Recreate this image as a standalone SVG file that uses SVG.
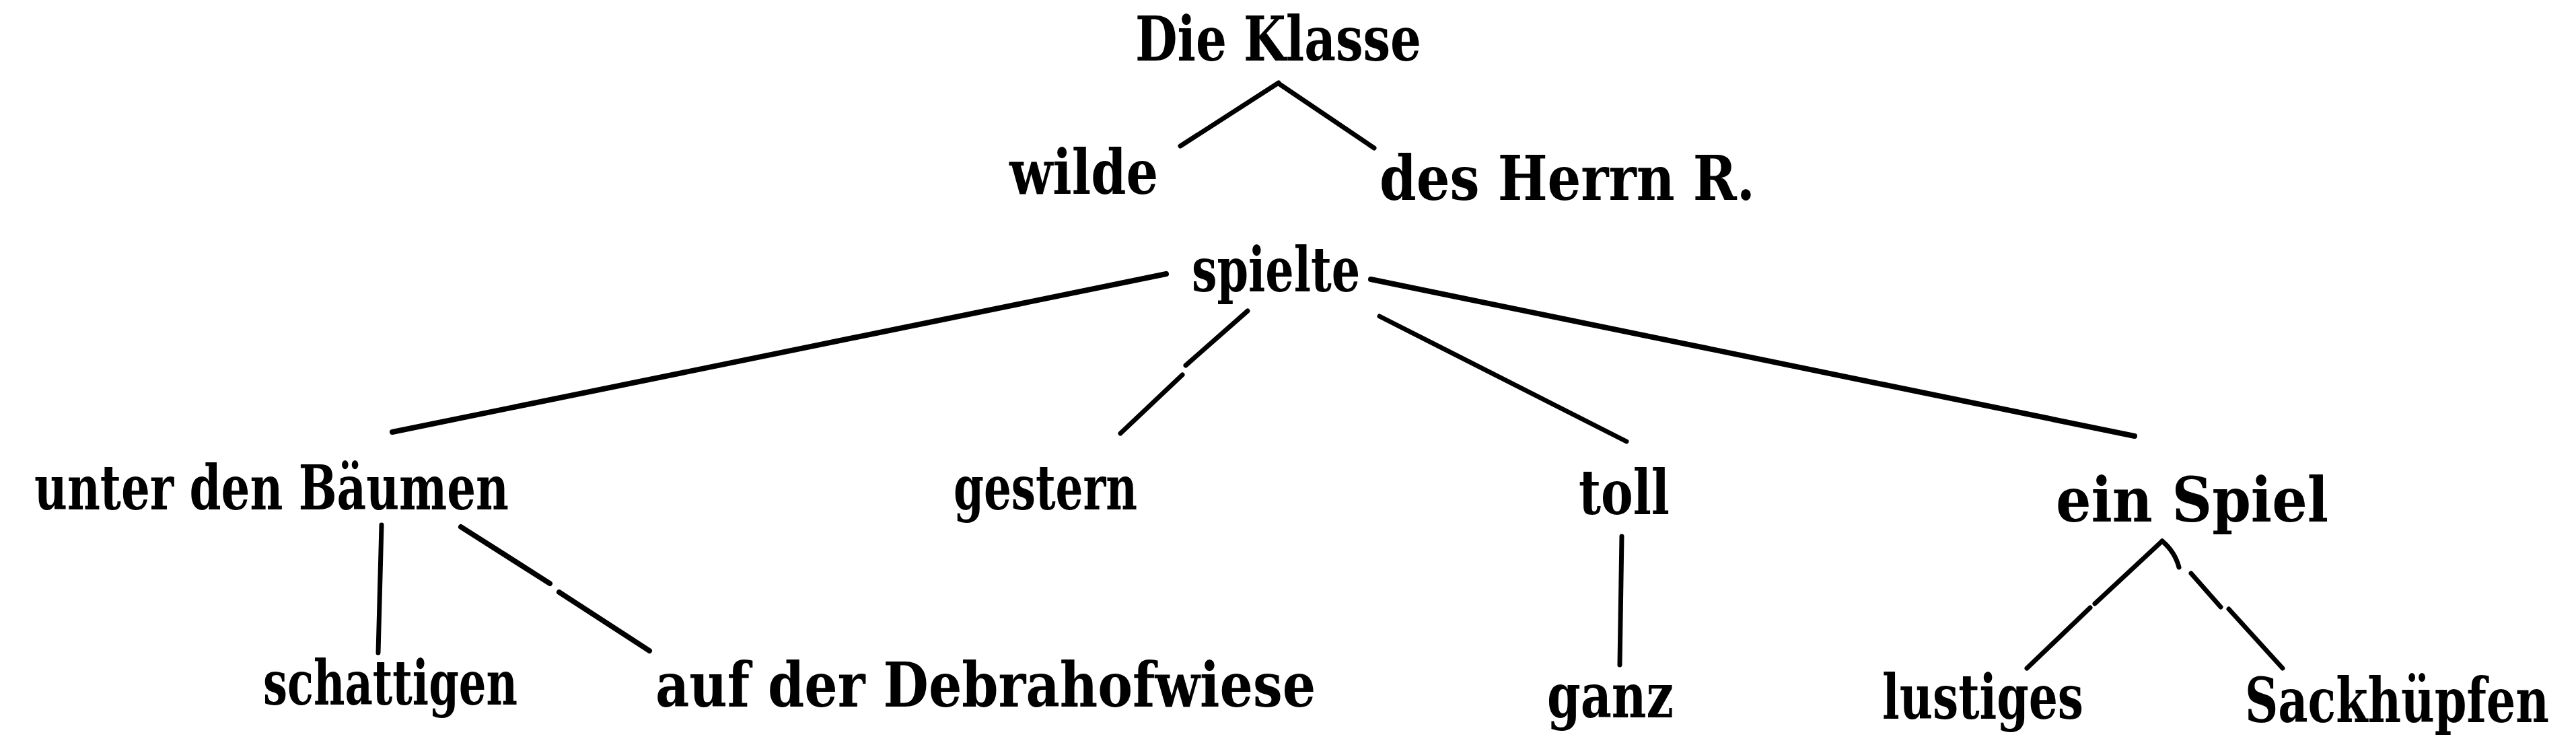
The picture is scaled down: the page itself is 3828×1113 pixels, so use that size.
<svg xmlns="http://www.w3.org/2000/svg" width="3828" height="1113" viewBox="0 0 3828 1113">
  <style>
    .bg { fill: #ffffff; }
    .lbl { font-family: "DejaVu Serif Condensed", "DejaVu Serif", "Liberation Serif", serif; font-weight: bold; font-size: 92px; fill: #000000; }
    .ln { fill: none; stroke: #000000; stroke-width: 7; stroke-linecap: round; stroke-linejoin: round; }
    .thick { stroke-width: 8; }
  </style>
  <rect class="bg" x="0" y="0" width="3828" height="1113"/>

  <g id="connectors">
    <path class="ln" d="M1900,123 L1754,217"/>
    <path class="ln" d="M1900,124 L2042,220"/>
    <path class="ln thick" d="M1733,407 L583,642"/>
    <path class="ln" d="M1854,462 L1762,543 M1757,557 L1665,644"/>
    <path class="ln" d="M2050,470 L2417,656"/>
    <path class="ln thick" d="M2037,415 L3172,648"/>
    <path class="ln" d="M567,780 L562,970"/>
    <path class="ln thick" d="M685,783 L817,867 M831,880 L965,967"/>
    <path class="ln" d="M2410,797 L2407,988"/>
    <path class="ln" d="M3213,804 L3113,897 M3106,903 L3012,993"/>
    <path class="ln" d="M3213,804 Q3232,820 3238,843 M3256,852 L3300,902 M3312,905 L3392,993"/>
  </g>

  <g id="node-die-klasse"><text class="lbl" x="1687" y="90" textLength="425" lengthAdjust="spacingAndGlyphs">Die Klasse</text></g>
  <g id="node-wilde"><text class="lbl" x="1500" y="288" textLength="221" lengthAdjust="spacingAndGlyphs">wilde</text></g>
  <g id="node-des-herrn-r"><text class="lbl" x="2050" y="297" textLength="558" lengthAdjust="spacingAndGlyphs">des Herrn R.</text></g>
  <g id="node-spielte"><text class="lbl" x="1771" y="433" textLength="250" lengthAdjust="spacingAndGlyphs">spielte</text></g>
  <g id="node-unter-den-baeumen"><text class="lbl" x="51" y="757" textLength="705" lengthAdjust="spacingAndGlyphs">unter den Bäumen</text></g>
  <g id="node-gestern"><text class="lbl" x="1417" y="757" textLength="273" lengthAdjust="spacingAndGlyphs">gestern</text></g>
  <g id="node-toll"><text class="lbl" x="2346" y="764" textLength="135" lengthAdjust="spacingAndGlyphs">toll</text></g>
  <g id="node-ein-spiel"><text class="lbl" x="3055" y="775" textLength="405" lengthAdjust="spacingAndGlyphs">ein Spiel</text></g>
  <g id="node-schattigen"><text class="lbl" x="391" y="1047" textLength="378" lengthAdjust="spacingAndGlyphs">schattigen</text></g>
  <g id="node-auf-der-debrahofwiese"><text class="lbl" x="974" y="1050" textLength="981" lengthAdjust="spacingAndGlyphs">auf der Debrahofwiese</text></g>
  <g id="node-ganz"><text class="lbl" x="2299" y="1066" textLength="188" lengthAdjust="spacingAndGlyphs">ganz</text></g>
  <g id="node-lustiges"><text class="lbl" x="2797" y="1068" textLength="299" lengthAdjust="spacingAndGlyphs">lustiges</text></g>
  <g id="node-sackhuepfen"><text class="lbl" transform="translate(3336,1073) scale(0.84,1)" x="0" y="0" textLength="538" lengthAdjust="spacingAndGlyphs">Sackhüpfen</text></g>
</svg>
